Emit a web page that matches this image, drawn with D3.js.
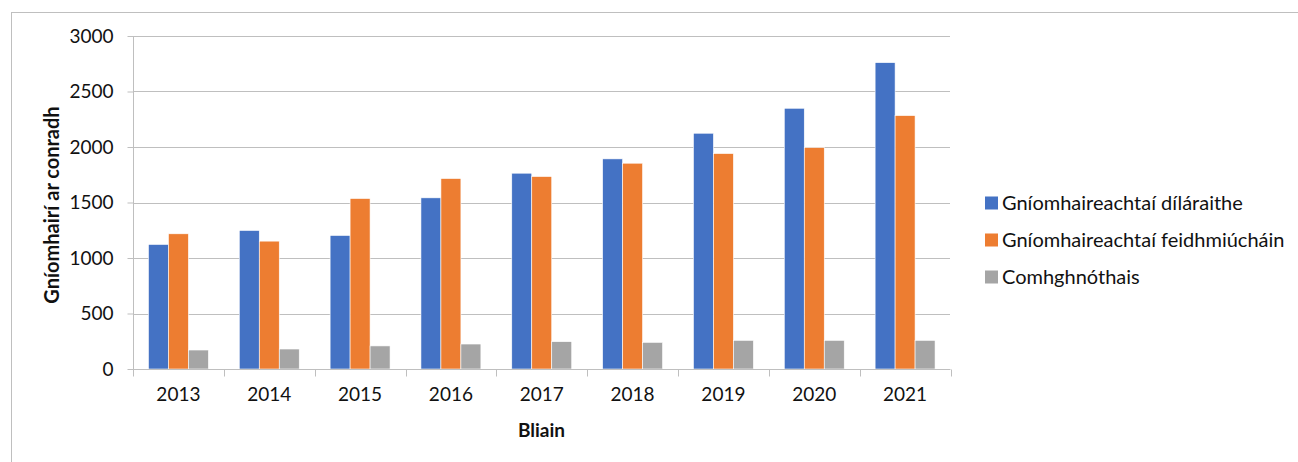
<!DOCTYPE html>
<html>
<head>
<meta charset="utf-8">
<script src="https://cdn.jsdelivr.net/npm/d3@7"></script>
<style>
  body { margin: 0; background: white; }
  text { font-family: Lato, "Open Sans", sans-serif; fill: #111; }
</style>
</head>
<body>
<div id="chart"></div>
<script>
const years = ["2013", "2014", "2015", "2016", "2017", "2018", "2019", "2020", "2021"];
const seriesNames = ["Gníomhaireachtaí díláraithe", "Gníomhaireachtaí feidhmiúcháin", "Comhghnóthais"];
const decentralised = [1122, 1248, 1203, 1542, 1764, 1893, 2124, 2349, 2760];
const executive = [1218, 1152, 1536, 1716, 1734, 1854, 1941, 1995, 2283];
const jointUndertakings = [171, 180, 208, 225, 246, 240, 258, 258, 258];
const yTicks = [0, 500, 1000, 1500, 2000, 2500, 3000];
const colors = ["#4472C4", "#ED7D31", "#A5A5A5"];

const width = 1298, height = 462;
const margin = { top: 36, right: 348, bottom: 93, left: 133 };

const svg = d3.select("#chart").append("svg")
  .attr("width", width)
  .attr("height", height);

// outer chart border (runs off the right and bottom edges)
svg.append("rect")
  .attr("x", 11.5).attr("y", 12.5)
  .attr("width", width).attr("height", height)
  .attr("fill", "none").attr("stroke", "#bfbfbf");

const x = d3.scaleBand()
  .domain(years)
  .range([margin.left, width - margin.right + 0.5])
  .paddingInner(0.34)
  .paddingOuter(0.17);

const xOuter = d3.scaleBand()
  .domain(years)
  .range([margin.left, width - margin.right + 0.5]);

const xSub = d3.scaleBand()
  .domain(d3.range(3))
  .range([0, x.bandwidth()]);

const y = d3.scaleLinear()
  .domain([0, 3000])
  .range([height - margin.bottom, margin.top]);

// gridlines
svg.append("g")
  .selectAll("line")
  .data(yTicks.slice(1))
  .join("line")
  .attr("x1", margin.left).attr("x2", width - margin.right)
  .attr("y1", d => Math.round(y(d)) + 0.5).attr("y2", d => Math.round(y(d)) + 0.5)
  .attr("stroke", "#bfbfbf").attr("stroke-width", 1);

const table = years.map((yr, i) => ({ year: yr, values: [decentralised[i], executive[i], jointUndertakings[i]] }));

svg.append("g")
  .selectAll("g")
  .data(table)
  .join("g")
  .attr("transform", d => `translate(${x(d.year)},0)`)
  .selectAll("rect")
  .data(d => d.values)
  .join("rect")
  .attr("x", (d, i) => xSub(i))
  .attr("y", d => y(d))
  .attr("width", xSub.bandwidth())
  .attr("height", d => y(0) - y(d))
  .attr("fill", (d, i) => colors[i])
  .attr("stroke", "white").attr("stroke-width", 0.6);

// y axis
const yAxis = svg.append("g")
  .attr("transform", `translate(${margin.left + 0.5},0)`)
  .call(d3.axisLeft(y).tickValues(yTicks).tickFormat(d3.format("d")).tickSize(6).tickPadding(14));
yAxis.selectAll("line").attr("stroke", "#bfbfbf");
yAxis.select(".domain").attr("stroke", "#bfbfbf").attr("d", `M0,${y(0)}V${y(3000)}`);
yAxis.selectAll("text").attr("font-size", 19).attr("fill", "#111")
  .style("font-family", "Lato, sans-serif");

// x axis
const xAxis = svg.append("g")
  .attr("transform", `translate(0,${Math.round(y(0)) + 0.5})`)
  .call(d3.axisBottom(xOuter).tickSize(0).tickPadding(18));
xAxis.select(".domain").attr("stroke", "#bfbfbf").attr("d", `M${margin.left},0H${width - margin.right + 0.5}`);
xAxis.selectAll("text").attr("font-size", 19).attr("fill", "#111")
  .style("font-family", "Lato, sans-serif");
const boundaries = years.map(d => xOuter(d)).concat([xOuter(years[years.length - 1]) + xOuter.step()]);
xAxis.selectAll(".bound")
  .data(boundaries)
  .join("line")
  .attr("class", "bound")
  .attr("x1", d => Math.round(d) + 0.5).attr("x2", d => Math.round(d) + 0.5)
  .attr("y1", 0).attr("y2", 7)
  .attr("stroke", "#bfbfbf");

// axis titles
svg.append("text")
  .attr("x", (margin.left + width - margin.right) / 2)
  .attr("y", 437)
  .attr("text-anchor", "middle")
  .attr("font-size", 19).attr("font-weight", "bold")
  .text("Bliain");

svg.append("text")
  .attr("transform", `translate(59,205) rotate(-90)`)
  .attr("text-anchor", "middle")
  .attr("font-size", 20).attr("font-weight", "bold")
  .text("Gníomhairí ar conradh");

// legend
const legend = svg.append("g")
  .selectAll("g")
  .data(seriesNames)
  .join("g")
  .attr("transform", (d, i) => `translate(985,${203 + i * 37})`);
legend.append("rect")
  .attr("x", 0).attr("y", -6.5)
  .attr("width", 13).attr("height", 13)
  .attr("fill", (d, i) => colors[i]);
legend.append("text")
  .attr("x", 17).attr("y", 7)
  .attr("font-size", 20)
  .text(d => d);
</script>
</body>
</html>
